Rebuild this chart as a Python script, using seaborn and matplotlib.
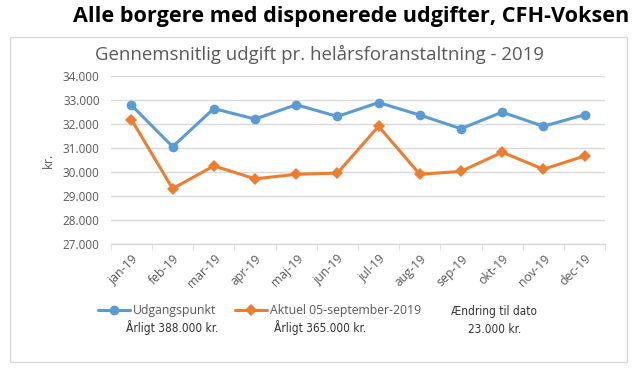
import numpy as np
import pandas as pd
import matplotlib
matplotlib.use("Agg")
import matplotlib.pyplot as plt
import seaborn as sns
from matplotlib.ticker import FixedLocator, FuncFormatter
from matplotlib.patches import Rectangle

months = ["jan-19", "feb-19", "mar-19", "apr-19", "maj-19", "jun-19",
          "jul-19", "aug-19", "sep-19", "okt-19", "nov-19", "dec-19"]
udgangspunkt = [32780, 31050, 32640, 32200, 32800, 32310, 32890, 32370, 31800, 32490, 31900, 32380]
aktuel = [32180, 29300, 30250, 29710, 29900, 29950, 31900, 29900, 30020, 30820, 30110, 30660]

blue = "#5B9BD5"
orange = "#ED7D31"
grey = "#595959"

sns.set_style("white")
plt.rcParams['font.family'] = ['Open Sans', 'DejaVu Sans']

fig = plt.figure(figsize=(6.37, 3.74), dpi=100)
ax = fig.add_axes([0.174, 0.348, 0.776, 0.449])

x = np.arange(len(months))
sns.lineplot(x=x, y=udgangspunkt, ax=ax, color=blue, lw=2.2, marker="o",
             markersize=7, markeredgewidth=0, label="Udgangspunkt")
sns.lineplot(x=x, y=aktuel, ax=ax, color=orange, lw=2.2, marker="D",
             markersize=6, markeredgewidth=0, label="Aktuel 05-september-2019")

ax.set_xlim(-0.5, 11.5)
ax.set_ylim(27000, 34000)
ax.set_yticks(np.arange(27000, 34001, 1000))
ax.yaxis.set_major_formatter(FuncFormatter(lambda v, p: f"{int(v):,}".replace(",", ".")))
ax.grid(axis="y", color="#D9D9D9", lw=1)
for s in ["top", "right", "left"]:
    ax.spines[s].set_visible(False)
ax.spines["bottom"].set_color("#D9D9D9")
ax.spines["bottom"].set_linewidth(1)

ax.set_xticks(x)
ax.set_xticklabels(months, rotation=45, ha="right", rotation_mode="anchor")
ax.xaxis.set_minor_locator(FixedLocator(np.arange(-0.5, 12, 1)))
ax.tick_params(axis="x", which="major", length=0, pad=6, labelsize=8.8, labelcolor=grey)
ax.tick_params(axis="x", which="minor", length=4, color="#D9D9D9", bottom=True)
ax.tick_params(axis="y", length=0, labelsize=8.5, labelcolor=grey, pad=8)
ax.set_ylabel("kr.", color=grey, fontsize=9, labelpad=6)
ax.set_xlabel("")

ax.get_legend().remove()
h, l = ax.get_legend_handles_labels()
fig.legend(h, l, loc="center left", bbox_to_anchor=(0.137, 0.17), ncol=2, frameon=False,
           fontsize=8.8, labelcolor=grey, handlelength=2.6, handletextpad=0.2, columnspacing=1.6)

narrow = dict(fontsize=8.5, family=['DejaVu Sans'], stretch='condensed', color="#333333",
              ha="center", va="center")
fig.text(0.270, 0.123, "Årligt 388.000 kr.", **narrow)
fig.text(0.503, 0.123, "Årligt 365.000 kr.", **narrow)
fig.text(0.776, 0.166, "Ændring til dato", **narrow)
fig.text(0.776, 0.12, "23.000 kr.", **narrow)

fig.text(0.501, 0.853, "Gennemsnitlig udgift pr. helårsforanstaltning - 2019", fontsize=13.4,
         color=grey, ha="center", va="center")
fig.text(0.551, 0.955, "Alle borgere med disponerede udgifter, CFH-Voksen", fontsize=15.6,
         fontweight="bold", color="black", ha="center", va="center")

fig.patches.append(Rectangle((0.016, 0.032), 0.968, 0.868, transform=fig.transFigure,
                             fill=False, edgecolor="#D9D9D9", lw=1))

fig.savefig("out.png", dpi=100)
